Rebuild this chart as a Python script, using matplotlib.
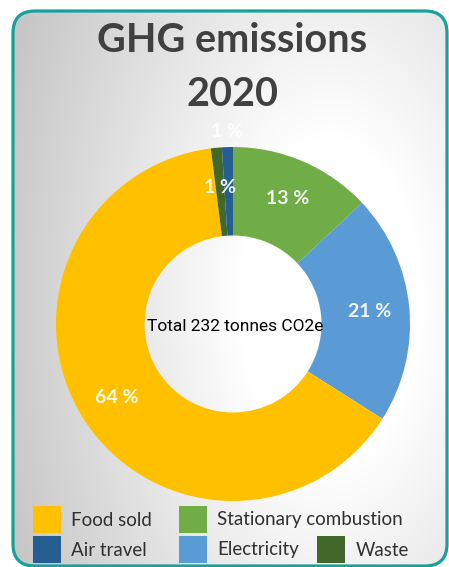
import numpy as np
import matplotlib.pyplot as plt
from matplotlib.patches import FancyBboxPatch, Rectangle

# data, clockwise from 12 o'clock
categories = ['Stationary combustion', 'Electricity', 'Food sold', 'Waste', 'Air travel']
shares = [13, 21, 64, 1, 1]
colors = ['#70ad47', '#5b9bd5', '#ffc000', '#43682b', '#255e91']
title_lines = ['GHG emissions', '2020']
total_text = 'Total 232 tonnes CO2e'
legend_order = ['Food sold', 'Stationary combustion', 'Air travel', 'Electricity', 'Waste']

W, H = 449, 567
fig = plt.figure(figsize=(W / 100, H / 100), dpi=100)
fig.patch.set_facecolor('white')

# background panel with soft gray shading and teal rounded border
bg = fig.add_axes([0, 0, 1, 1])
bg.set_xlim(0, W)
bg.set_ylim(H, 0)
bg.axis('off')
yy, xx = np.mgrid[0:H, 0:W]
dist = np.hypot(xx - 330, (yy - 300) / 1.8)
shade = 1 - 0.22 * np.clip((dist - 90) / 250, 0, 1)
img = bg.imshow(np.dstack([shade] * 3), extent=(0, W, H, 0), zorder=0, aspect='auto')
box = FancyBboxPatch((13, 11), 434, 555, boxstyle='round,pad=0,rounding_size=22',
                     fc='none', ec='#17a19b', lw=2.3, zorder=3)
bg.add_patch(box)
img.set_clip_path(box)

# title
bg.text(232, 41, title_lines[0], ha='center', va='center', fontsize=28.5,
        fontweight='bold', family='Lato', color='#404040')
bg.text(232, 95, title_lines[1], ha='center', va='center', fontsize=28.5,
        fontweight='bold', family='Lato', color='#404040')

# donut
ax = fig.add_axes([56 / W, 1 - 501 / H, 354 / W, 354 / H])
wedges, _ = ax.pie(shares, colors=colors, startangle=90, counterclock=False,
                   radius=1, wedgeprops=dict(width=0.5, edgecolor='none'))
ax.set_xlim(-1.1, 1.1)
ax.set_ylim(-1.1, 1.1)
ax.set_position([(56 - 17.7) / W, 1 - (501 + 17.7) / H, 354 * 1.1 / W, 354 * 1.1 / H])

# the air travel label sits just outside the ring, as in the original
label_r = [0.775, 0.775, 0.775, 0.775, 1.09]
for w, v, r in zip(wedges, shares, label_r):
    ang = np.deg2rad((w.theta1 + w.theta2) / 2)
    ax.text(r * np.cos(ang), r * np.sin(ang), f'{v} %', ha='center', va='center',
            fontsize=14, fontweight='bold', family='Lato', color='white', alpha=0.92)

ax.text(0.015, -0.015, total_text, ha='center', va='center', fontsize=12.5,
        family='Roboto', color='black')

# legend laid out like the original (swatch left/top in pixels)
legend_pos = [(33, 506), (179, 506), (33, 536), (179, 536), (317, 536)]
for name, (x0, y0) in zip(legend_order, legend_pos):
    c = colors[categories.index(name)]
    bg.add_patch(Rectangle((x0, y0), 28, 27, fc=c, ec='none', zorder=4))
    bg.text(x0 + 38 if name != 'Waste' else x0 + 39, y0 + 14, name, ha='left', va='center',
            fontsize=13.5, family='Lato', color='#303030', zorder=4)

fig.savefig('out.png', dpi=100)
